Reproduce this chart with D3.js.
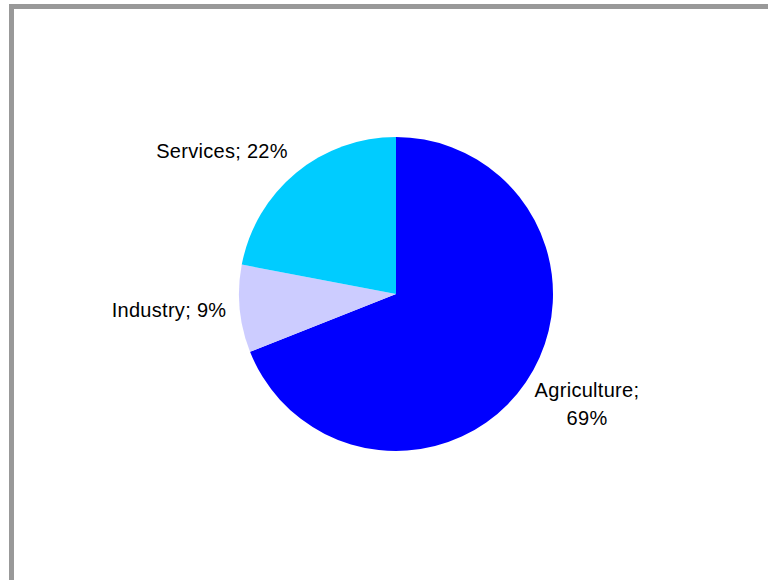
<!DOCTYPE html>
<html>
<head>
<meta charset="utf-8">
<script src="https://cdn.jsdelivr.net/npm/d3@7"></script>
<style>
  body { margin: 0; background: #fff; }
  svg { display: block; }
</style>
</head>
<body>
<svg id="chart" width="768" height="580"></svg>
<script>
// sectors of the pie
var categories = ["Agriculture", "Industry", "Services"];
var shares = [69, 9, 22];
var colors = ["#0000ff", "#ccccff", "#00ccff"];

var svg = d3.select("#chart");

// gray frame, open on the right and bottom
svg.append("path")
    .attr("d", "M11.5,580 L11.5,6.5 L768,6.5")
    .attr("fill", "none")
    .attr("stroke", "#999999")
    .attr("stroke-width", 5);

var cx = 396, cy = 294, r = 157;

var pie = d3.pie().sort(null).value(function(d){ return d; });
var arc = d3.arc().innerRadius(0).outerRadius(r);
var arcs = pie(shares);

var g = svg.append("g").attr("transform", "translate(" + cx + "," + cy + ")");

g.selectAll(".slice")
    .data(arcs)
    .enter()
    .append("path")
    .attr("class", "slice")
    .attr("d", arc)
    .attr("fill", function(d, i){ return colors[i]; });

// label positions (relative to centre) and text lines
var labelPos = [[191, 103], [-227, 23], [-174, -136]];
var labelLines = [
    [categories[0] + ";", shares[0] + "%"],
    [categories[1] + "; " + shares[1] + "%"],
    [categories[2] + "; " + shares[2] + "%"]
];

labelLines.forEach(function(lines, i){
    var t = g.append("text")
        .attr("x", labelPos[i][0])
        .attr("y", labelPos[i][1])
        .attr("text-anchor", "middle")
        .attr("font-family", "Liberation Sans, Arial, sans-serif")
        .attr("font-size", "20px")
        .attr("letter-spacing", "0.3px")
        .attr("fill", "#000");
    lines.forEach(function(s, j){
        t.append("tspan")
            .attr("x", labelPos[i][0])
            .attr("dy", j === 0 ? 0 : 28)
            .text(s);
    });
});
</script>
</body>
</html>
